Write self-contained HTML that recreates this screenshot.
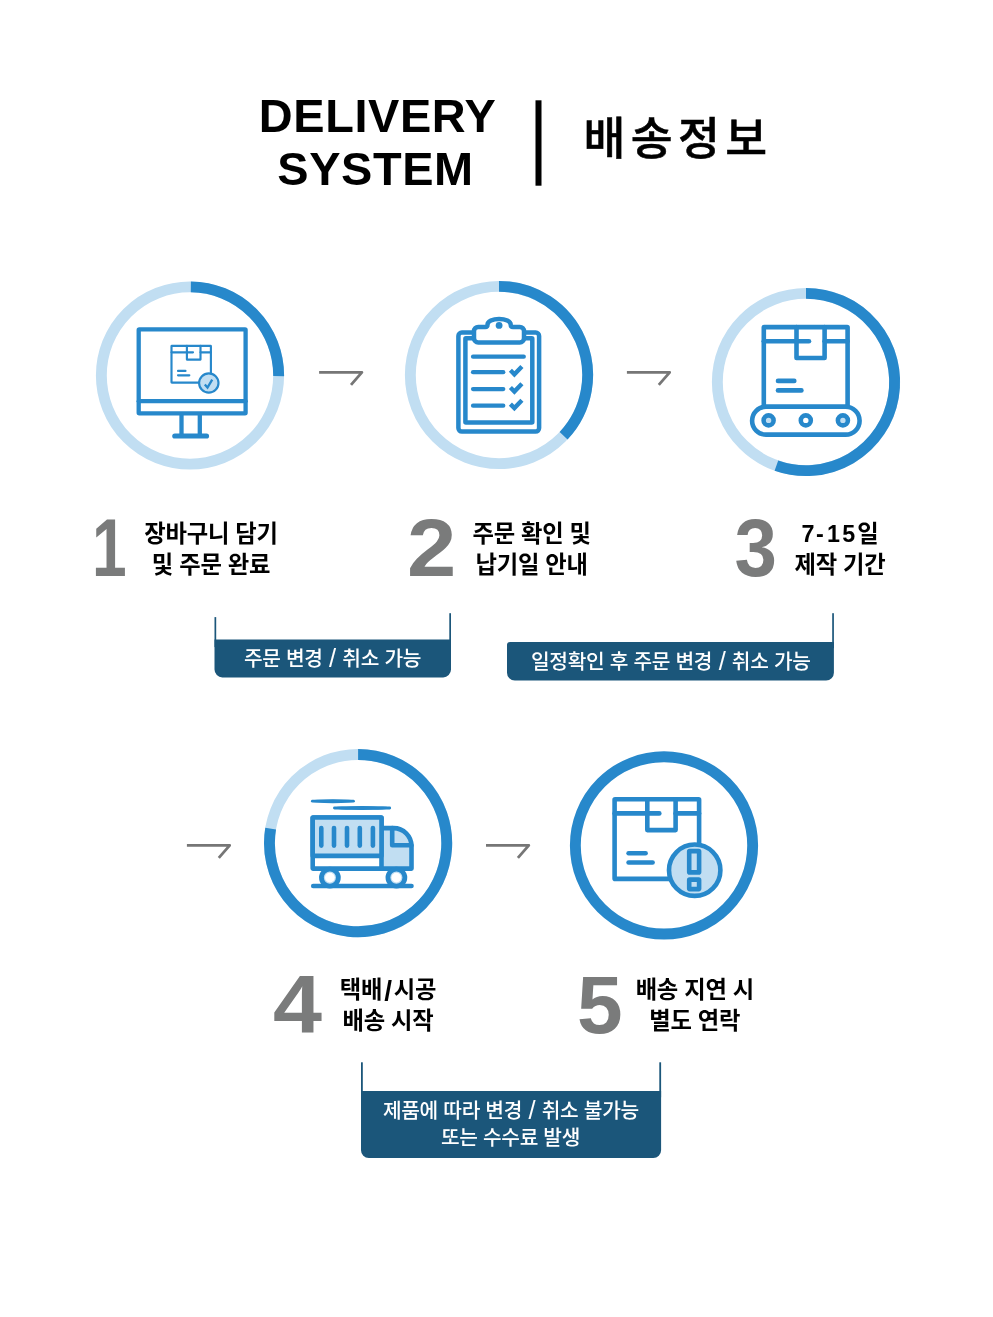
<!DOCTYPE html>
<html lang="ko">
<head>
<meta charset="utf-8">
<title>DELIVERY SYSTEM | 배송정보</title>
<style>
html,body{margin:0;padding:0;background:#fff;}
body{width:993px;height:1317px;overflow:hidden;position:relative;}
svg{position:absolute;left:0;top:0;display:block;will-change:transform;}
text{font-family:"Liberation Sans","Noto Sans CJK KR","NanumGothic",sans-serif;}
.ko{font-family:"Liberation Sans","Noto Sans CJK KR","NanumGothic",sans-serif;}
.en{font-weight:700;font-size:46.9px;fill:#000;text-anchor:middle;letter-spacing:0.6px;}
.kt{font-weight:500;font-size:45.5px;fill:#000;stroke:#000;stroke-width:0.55px;letter-spacing:5.4px;}
.num{font-weight:700;font-size:82px;fill:#7a7b7b;}
.st{font-weight:700;font-size:23.3px;fill:#000;text-anchor:middle;letter-spacing:-0.2px;word-spacing:-0.2px;}
.lb{font-weight:500;font-size:20.3px;fill:#fff;text-anchor:middle;letter-spacing:-0.3px;}
.d{fill:none;stroke:#2788cb;}
.l{fill:none;stroke:#c1def2;}
.ar{fill:none;stroke:#767676;stroke-width:2.8;stroke-linejoin:round;}
.bx{fill:#1b567a;}
</style>
</head>
<body>
<svg width="993" height="1317" viewBox="0 0 993 1317">
<!-- TITLE -->
<g id="title">
<text class="en" x="377.6" y="132.1">DELIVERY</text>
<text class="en" x="375.5" y="185.3">SYSTEM</text>
<rect x="535.5" y="100.3" width="6" height="85.4" fill="#000"/>
<text class="kt ko" x="583.6" y="154.6">배송정보</text>
</g>
<!-- RINGS -->
<g id="rings" stroke-width="10.9">
<circle class="l" cx="190" cy="375.5" r="88.65"/>
<circle class="l" cx="499" cy="375" r="88.65"/>
<circle class="l" cx="806" cy="382" r="88.65"/>
<circle class="l" cx="358.1" cy="843.1" r="88.65"/>
<circle class="d" cx="664" cy="845.4" r="88.65"/>
<path class="d" d="M190.85 286.85A88.65 88.65 0 0 1 278.65 376.12"/>
<path class="d" d="M499.00 286.35A88.65 88.65 0 0 1 563.62 435.69"/>
<path class="d" d="M806.00 293.35A88.65 88.65 0 1 1 776.41 465.57"/>
<path class="d" d="M358.10 754.45A88.65 88.65 0 1 1 270.64 828.62"/>
</g>
<!-- ICONS -->
<g id="icon1" class="d" stroke-width="4.3" stroke-linejoin="round" stroke-linecap="round">
<rect x="138.7" y="329.3" width="106.9" height="84.1" rx="0.6"/>
<line x1="138.7" y1="401.2" x2="245.6" y2="401.2"/>
<line x1="181.5" y1="415" x2="181.5" y2="435" stroke-linecap="butt"/>
<line x1="199.8" y1="415" x2="199.8" y2="435" stroke-linecap="butt"/>
<line x1="174.8" y1="436" x2="206.5" y2="436" stroke-width="5.2"/>
<g stroke-width="2.15">
<rect x="171.5" y="345.8" width="39.4" height="36.9" rx="0.4"/>
<line x1="171.5" y1="352.3" x2="193" y2="352.3"/>
<line x1="200.5" y1="352.3" x2="210.9" y2="352.3"/>
<path d="M186.9 345.8V359.6H200.5V345.8"/>
<line x1="178" y1="370.9" x2="185.5" y2="370.9"/>
<line x1="178" y1="375.3" x2="189.3" y2="375.3"/>
<circle cx="208.8" cy="383" r="9.7" fill="#c1def2"/>
<path d="M204.8 384.6L207.5 387.6L212.2 379.6" stroke-width="2.3" stroke-linejoin="miter" stroke-linecap="butt"/>
</g>
</g>
<g id="icon2" class="d" stroke-width="4.5" stroke-linejoin="round" stroke-linecap="round">
<rect x="458.4" y="332.6" width="80.7" height="99" rx="3.5"/>
<rect x="465.4" y="338.3" width="66.9" height="84.2" rx="0.5"/>
<path fill="#fff" d="M478.2 326.9H485.3Q487.5 326.9 487.5 324.7A11.6 5.8 0 0 1 510.7 324.7Q510.7 326.9 512.9 326.9H519.8A4.2 4.2 0 0 1 524 331.1V338.3A4.2 4.2 0 0 1 519.8 342.5H478.2A4.2 4.2 0 0 1 474 338.3V331.1A4.2 4.2 0 0 1 478.2 326.9Z"/>
<circle cx="499.1" cy="325.4" r="3.4" fill="#2788cb" stroke="none"/>
<g stroke-width="4.2">
<line x1="473" y1="356.7" x2="523.8" y2="356.7"/>
<line x1="473" y1="372.2" x2="503.3" y2="372.2"/>
<line x1="473" y1="389.1" x2="503.3" y2="389.1"/>
<line x1="473" y1="405.7" x2="503.3" y2="405.7"/>
</g>
<g stroke-width="4.4" stroke-linejoin="miter" stroke-linecap="butt">
<path d="M510.4 370.3L514.4 374.3L521.9 366.5"/>
<path d="M510.4 387.5L514.4 391.5L521.9 383.7"/>
<path d="M510.4 404.1L514.4 408.1L521.9 400.3"/>
</g>
</g>
<g id="icon3" class="d" stroke-width="4.6" stroke-linejoin="round" stroke-linecap="round">
<rect x="763.8" y="327.1" width="83.8" height="79.7" rx="0.5"/>
<line x1="763.8" y1="341.3" x2="809" y2="341.3"/>
<line x1="824.6" y1="341.3" x2="847.6" y2="341.3"/>
<path d="M796.5 327.1V358H824.6V327.1"/>
<line x1="778" y1="380.9" x2="794.3" y2="380.9"/>
<line x1="778" y1="390.4" x2="801.4" y2="390.4"/>
<rect x="752.1" y="406.8" width="107.5" height="27.8" rx="13.9" fill="#fff"/>
<circle cx="768.6" cy="420.4" r="5" fill="#c1def2"/>
<circle cx="805.8" cy="420.4" r="5" fill="#fff"/>
<circle cx="842.9" cy="420.4" r="5" fill="#c1def2"/>
</g>
<g id="icon4" class="d" stroke-width="4.6" stroke-linejoin="round" stroke-linecap="round">
<line x1="312.4" y1="801.2" x2="353.4" y2="801.2" stroke-width="2.8"/>
<ellipse cx="332.9" cy="801.2" rx="21.9" ry="2" fill="#2788cb" stroke="none"/>
<line x1="334.5" y1="808" x2="389.7" y2="808" stroke-width="2.8"/>
<ellipse cx="362.1" cy="808" rx="29" ry="2" fill="#2788cb" stroke="none"/>
<path fill="#c1def2" d="M381.5 828.1H393.5A18 18 0 0 1 411.5 846.1V868.6H381.5"/>
<path d="M392.2 828.1V845.3H411.5"/>
<rect x="312.7" y="817.5" width="68.8" height="51.1" rx="0.5" fill="#fff"/>
<rect x="312.7" y="817.5" width="68.8" height="38.4" rx="0.5" fill="#c1def2"/>
<g stroke-width="4.6">
<line x1="321.3" y1="828" x2="321.3" y2="845.6"/>
<line x1="334" y1="828" x2="334" y2="845.6"/>
<line x1="347" y1="828" x2="347" y2="845.6"/>
<line x1="359.8" y1="828" x2="359.8" y2="845.6"/>
<line x1="372.9" y1="828" x2="372.9" y2="845.6"/>
</g>
<line x1="313.2" y1="886" x2="411.5" y2="886"/>
<circle cx="329.9" cy="877.6" r="8.45" fill="#c1def2" stroke-width="4.8"/>
<circle cx="329.9" cy="877.6" r="4.9" fill="#fff" stroke="none"/>
<circle cx="396.4" cy="877.6" r="8.45" fill="#c1def2" stroke-width="4.8"/>
<circle cx="396.4" cy="877.6" r="4.9" fill="#fff" stroke="none"/>
</g>
<g id="icon5" class="d" stroke-width="4.6" stroke-linejoin="round" stroke-linecap="round">
<rect x="614.6" y="799.2" width="84.5" height="79.7" rx="0.5"/>
<line x1="614.6" y1="813.4" x2="659.3" y2="813.4"/>
<line x1="675.6" y1="813.4" x2="699.1" y2="813.4"/>
<path d="M647.3 799.2V830.1H675.6V799.2"/>
<line x1="628.6" y1="853.3" x2="645.6" y2="853.3"/>
<line x1="628.6" y1="862.5" x2="652.6" y2="862.5"/>
<circle cx="694.7" cy="870.2" r="25.7" fill="#c1def2"/>
<rect x="689.2" y="851.1" width="9.9" height="21.3" rx="0.5" fill="#c1def2"/>
<rect x="689.2" y="879.6" width="9.9" height="9.5" rx="0.5" fill="#c1def2"/>
</g>
<!-- ARROWS -->
<g id="arrows">
<polyline class="ar" points="319.1,372.4 361.9,372.4 351.0,384.8"/>
<polyline class="ar" points="626.9,372.4 669.7,372.4 658.8,384.8"/>
<polyline class="ar" points="186.9,845.4 229.7,845.4 218.8,857.8"/>
<polyline class="ar" points="486.0,845.4 528.8,845.4 517.9,857.8"/>
</g>
<!-- STEP TEXT -->
<g id="steps">
<text class="num" transform="translate(92.1 575.8) scale(0.76 1)">1</text>
<text class="st ko" x="211" y="542.2">장바구니 담기</text>
<text class="st ko" x="211" y="573.2">및 주문 완료</text>
<text class="num" transform="translate(407.0 576.4) scale(1.08 1)">2</text>
<text class="st ko" x="531.6" y="542.2">주문 확인 및</text>
<text class="st ko" x="531.6" y="573.2">납기일 안내</text>
<text class="num" transform="translate(734.6 575.7) scale(0.93 1)">3</text>
<text class="st ko" x="840" y="542.2"><tspan style="letter-spacing:1.7px">7-</tspan><tspan dx="1.5" style="letter-spacing:2.2px">15</tspan>일</text>
<text class="st ko" x="840" y="573.2">제작 기간</text>
<text class="num" transform="translate(273.1 1032.1) scale(1.075 1)">4</text>
<text class="st ko" x="388" y="998.2">택배<tspan dx="2" dy="2.2" style="font-size:28px;font-weight:700">/</tspan><tspan dx="2" dy="-2.2">시공</tspan></text>
<text class="st ko" x="388" y="1029.2">배송 시작</text>
<text class="num" transform="translate(577.0 1032.8) scale(1.0 1)">5</text>
<text class="st ko" x="694.8" y="998.2">배송 지연 시</text>
<text class="st ko" x="694.8" y="1029.2">별도 연락</text>
</g>
<!-- LABEL BOXES -->
<g id="labels">
<rect x="214.5" y="617.1" width="1.7" height="30" class="bx"/>
<rect x="449.3" y="613.2" width="1.7" height="30" class="bx"/>
<path class="bx" d="M214.5 639.5H451V669.6a7.8 7.8 0 0 1 -7.8 7.8H222.3a7.8 7.8 0 0 1 -7.8 -7.8V639.5Z"/>
<text class="lb ko" x="332.5" y="665.6">주문 변경 <tspan dx="1.1" dy="1.6" style="font-size:25.5px">/</tspan><tspan dx="1.1" dy="-1.6"> </tspan>취소 가능</text>
<rect x="832.2" y="613.2" width="1.7" height="35" class="bx"/>
<path class="bx" d="M510 641.9H833.9V672.7a7.8 7.8 0 0 1 -7.8 7.8H514.8a7.8 7.8 0 0 1 -7.8 -7.8V644.9a3 3 0 0 1 3 -3Z"/>
<text class="lb ko" x="670.8" y="668.5">일정확인 후 주문 변경 <tspan dx="1.1" dy="1.6" style="font-size:25.5px">/</tspan><tspan dx="1.1" dy="-1.6"> </tspan>취소 가능</text>
<rect x="361" y="1062.3" width="1.8" height="35" class="bx"/>
<rect x="659.3" y="1062.3" width="1.8" height="35" class="bx"/>
<path class="bx" d="M361 1091.1H661.1V1150.3a7.8 7.8 0 0 1 -7.8 7.8H368.8a7.8 7.8 0 0 1 -7.8 -7.8V1091.1Z"/>
<text class="lb ko" x="510.9" y="1117.8">제품에 따라 변경 <tspan dx="1.1" dy="1.6" style="font-size:25.5px">/</tspan><tspan dx="1.1" dy="-1.6"> </tspan>취소 불가능</text>
<text class="lb ko" x="510.5" y="1145.4">또는 수수료 발생</text>
</g>
</svg>
</body>
</html>
